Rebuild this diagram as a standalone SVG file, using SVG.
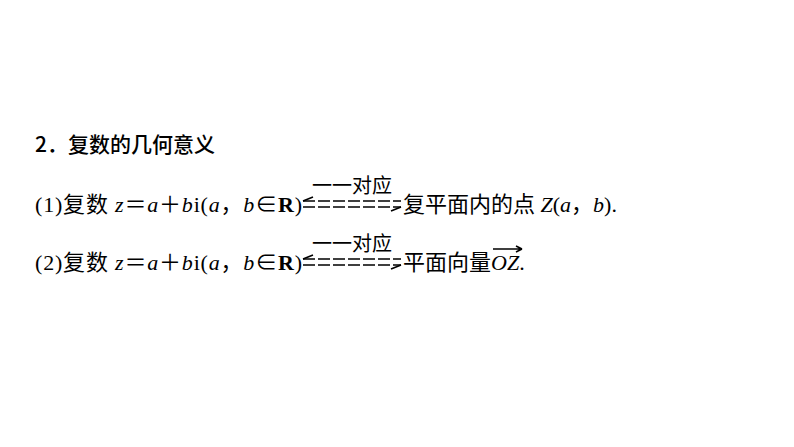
<svg xmlns="http://www.w3.org/2000/svg" width="794" height="447" viewBox="0 0 794 447">
<style>
text{font-family:"Liberation Serif","Noto Sans CJK SC",serif;font-size:22px;fill:#000}
.t{font-family:"Noto Sans CJK SC",sans-serif;font-size:21px;font-weight:500}
.i{font-style:italic}
.b{font-weight:bold}
.lbl{font-size:20px}
.ar{stroke:#000;stroke-width:1.6;fill:none}
.d{stroke-dasharray:12 3}
</style>
<rect width="794" height="447" fill="#fff"/>
<g id="title"><text class="t" x="35" y="152">2．复数的几何意义</text></g>
<g id="line1">
<text x="35" y="212" textLength="267" lengthAdjust="spacing">(1)复数 <tspan class="i">z</tspan>＝<tspan class="i">a</tspan>＋<tspan class="i">b</tspan>i(<tspan class="i">a</tspan>，<tspan class="i">b</tspan>∈<tspan class="b">R</tspan>)</text>
<text class="lbl" x="352" y="193" text-anchor="middle">一一对应</text>
<text x="403" y="212">复平面内的点 <tspan class="i">Z</tspan>(<tspan class="i">a</tspan>，<tspan class="i">b</tspan>).</text>
</g>
<g id="line2">
<text x="35" y="270" textLength="267" lengthAdjust="spacing">(2)复数 <tspan class="i">z</tspan>＝<tspan class="i">a</tspan>＋<tspan class="i">b</tspan>i(<tspan class="i">a</tspan>，<tspan class="i">b</tspan>∈<tspan class="b">R</tspan>)</text>
<text class="lbl" x="352" y="251" text-anchor="middle">一一对应</text>
<text x="403" y="270">平面向量<tspan class="i">OZ</tspan>.</text>
</g>
<g id="connectors">
<path class="ar d" d="M303 201H401M303 207H401"/>
<path class="ar" d="M303 201l10 -4M401 207l-10 4"/>
<path class="ar d" d="M303 259H401M303 265H401"/>
<path class="ar" d="M303 259l10 -4M401 265l-10 4"/>
<path class="ar" d="M493 249H522M522 249l-6 -3M522 249l-6 3" stroke-width="1.2"/>
</g>
</svg>
